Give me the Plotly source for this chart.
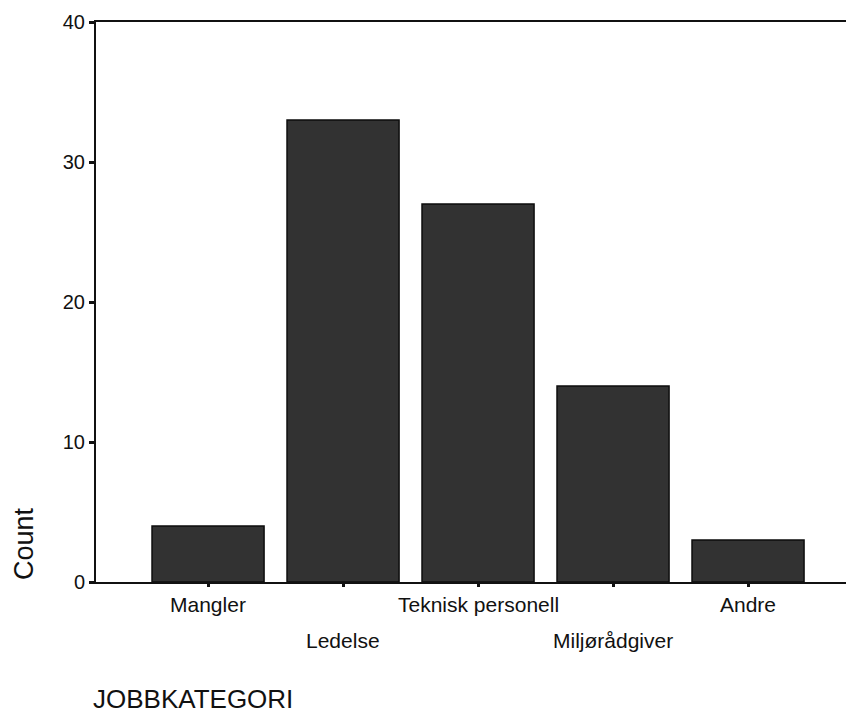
import plotly.graph_objects as go

categories = ["Mangler", "Ledelse", "Teknisk personell", "Miljørådgiver", "Andre"]
counts = [4, 33, 27, 14, 3]
tick_rows = [0, 1, 0, 1, 0]
y_ticks = [0, 10, 20, 30, 40]

xpos = list(range(len(categories)))

W, H = 846, 710
L, R, T, B = 88, 0, 14, 136
FONT = "Liberation Sans, Arial"

fig = go.Figure(go.Bar(
    x=xpos, y=counts, width=0.83,
    marker=dict(color="#323232", line=dict(color="#0d0d0d", width=1.5)),
))

for xi, lab, row in zip(xpos, categories, tick_rows):
    fig.add_annotation(x=xi, y=0, xref="x", yref="y", text=lab, showarrow=False,
                       xanchor="center", yanchor="middle", yshift=-22 - 36 * row,
                       font=dict(family=FONT, size=21, color="#111"))

fig.update_layout(
    width=W, height=H,
    margin=dict(l=L, r=R, t=T, b=B),
    paper_bgcolor="white", plot_bgcolor="white",
    showlegend=False,
    font=dict(family=FONT, color="#111"),
    xaxis=dict(range=[-0.83, 4.785], tickvals=xpos, ticktext=[""] * 5,
               showline=True, linecolor="#111", linewidth=2, mirror=True,
               ticks="outside", ticklen=3, tickwidth=3, tickcolor="#111",
               showgrid=False, zeroline=False),
    yaxis=dict(range=[0, 40], tickvals=y_ticks, showline=True, linecolor="#111",
               linewidth=2, ticks="outside", ticklen=5, tickwidth=3, tickcolor="#111",
               showgrid=False, zeroline=False,
               tickfont=dict(size=20, family=FONT, color="#111")),
)

def to_paper(sx, sy):
    # screen pixel (page has an 8px body margin) -> paper coordinates
    fx, fy = sx - 8, sy - 8
    return (fx - L) / (W - L - R), (H - B - fy) / (H - T - B)

cx, cy = to_paper(24, 544)
fig.add_annotation(x=cx, y=cy, xref="paper", yref="paper", text="Count", showarrow=False,
                   xanchor="center", yanchor="middle",
                   textangle=-90, font=dict(size=27, family=FONT, color="#111"))
jx, jy = to_paper(91, 699)
fig.add_annotation(x=jx, y=jy, xref="paper", yref="paper", text="JOBBKATEGORI", showarrow=False,
                   xanchor="left", yanchor="middle",
                   font=dict(size=26, family=FONT, color="#111"))

fig.write_html("out.html")
